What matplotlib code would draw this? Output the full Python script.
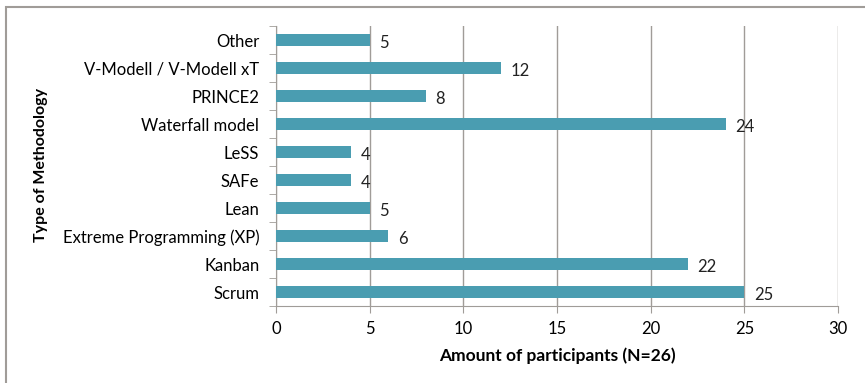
import matplotlib.pyplot as plt
from matplotlib.patches import Rectangle
import numpy as np

plt.rcParams['font.family'] = ['Lato', 'DejaVu Sans']

methods = ['Scrum', 'Kanban', 'Extreme Programming (XP)', 'Lean', 'SAFe', 'LeSS',
           'Waterfall model', 'PRINCE2', 'V-Modell / V-Modell xT', 'Other']
counts = [25, 22, 6, 5, 4, 4, 24, 8, 12, 5]

bar_color = '#4a9db1'
line_gray = '#a09c98'

fig = plt.figure(figsize=(8.65, 3.83), dpi=100)
ax = fig.add_axes([0.319, 0.201, 0.650, 0.731])

y = np.arange(len(methods))
ax.barh(y, counts, height=0.4, color=bar_color, zorder=3)
for yi, c in zip(y, counts):
    ax.text(c + 0.5, yi - 0.12, str(c), va='center', ha='left', fontsize=12, color='#222222')

ax.set_xlim(0, 30)
ax.set_ylim(-0.5, len(methods) - 0.5)
ax.set_xticks(np.arange(0, 31, 5))
ax.set_yticks(y)
ax.set_yticklabels(methods, fontsize=12)
ax.tick_params(axis='x', labelsize=12, length=5, color=line_gray, pad=6)
ax.tick_params(axis='y', length=0, pad=12)
# ticks between categories on the left axis
ax.set_yticks(np.arange(-0.5, len(methods), 1), minor=True)
ax.tick_params(axis='y', which='minor', length=5, color=line_gray, direction='out')

ax.grid(axis='x', color=line_gray, linewidth=1, zorder=0)
for s in ['top', 'right']:
    ax.spines[s].set_visible(False)
for s in ['left', 'bottom']:
    ax.spines[s].set_color(line_gray)

ax.set_xlabel('Amount of participants (N=26)', fontsize=12.5, fontweight='bold', labelpad=7)
fig.text(0.047, 0.569, 'Type of Methodology', rotation=90, fontsize=11.5,
         fontweight='bold', ha='center', va='center')

fig.patches.append(Rectangle((0.007, -0.5), 2, 0.982 + 0.5, transform=fig.transFigure,
                             fill=False, edgecolor=line_gray, linewidth=1.5))

fig.savefig('out.png', dpi=100)
